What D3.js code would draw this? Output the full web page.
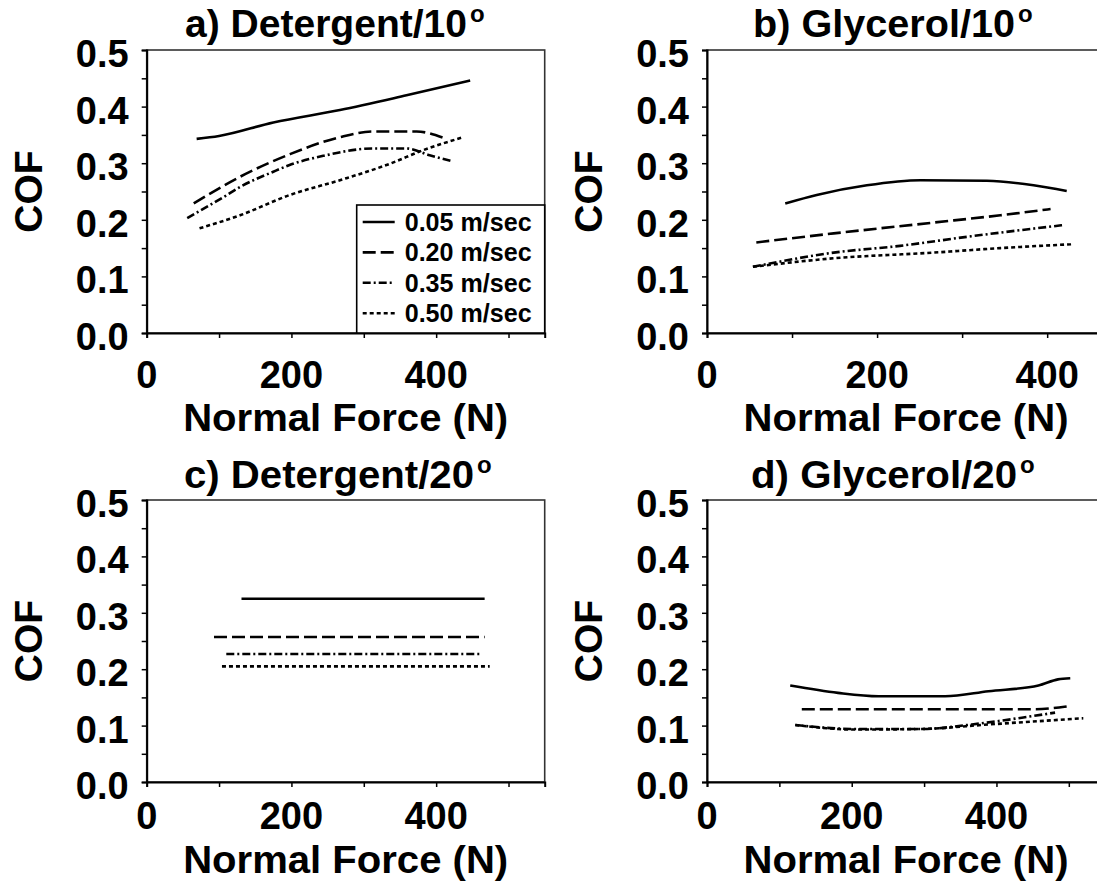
<!DOCTYPE html>
<html><head><meta charset="utf-8">
<script src="https://cdn.jsdelivr.net/npm/d3@7"></script>
<style>
body{margin:0;background:#fff}
svg{display:block;background:#fff}
text{font-family:'Liberation Sans',Arial,Helvetica,sans-serif;font-weight:bold;fill:#000}
</style>
</head><body>
<svg id="chart" width="1097" height="886"></svg>
<script>
// ---------- data ----------
const speedLabels = ["0.05 m/sec", "0.20 m/sec", "0.35 m/sec", "0.50 m/sec"];
const panelTitles = ["a) Detergent/10", "b) Glycerol/10", "c) Detergent/20", "d) Glycerol/20"];
const yTickLabels = [0.0, 0.1, 0.2, 0.3, 0.4, 0.5];
const yMinorTicks = [0.05, 0.15, 0.25, 0.35, 0.45];
const xTickLabels = [0, 200, 400];
const xTicks = [0, 100, 200, 300, 400, 500];

// a) Detergent / 10 deg
const aForce005 = [69, 100, 175, 267, 359, 447];
const aCof005   = [0.343, 0.348, 0.372, 0.394, 0.420, 0.446];
const aForce020 = [65, 129, 198, 267, 313, 373, 410];
const aCof020   = [0.229, 0.276, 0.316, 0.346, 0.356, 0.356, 0.345];
const aForce035 = [56, 106, 129, 175, 200, 244, 313, 359, 391, 421];
const aCof035   = [0.203, 0.240, 0.258, 0.285, 0.298, 0.313, 0.326, 0.326, 0.314, 0.304];
const aForce050 = [73, 129, 198, 267, 336, 382, 435];
const aCof050   = [0.185, 0.208, 0.244, 0.270, 0.299, 0.323, 0.345];

// b) Glycerol / 10 deg
const bForce005 = [92, 129, 188, 251, 329, 384, 423];
const bCof005   = [0.229, 0.244, 0.261, 0.270, 0.269, 0.261, 0.251];
const bForce020 = [58, 149, 266, 345, 404];
const bCof020   = [0.160, 0.176, 0.195, 0.208, 0.219];
const bForce035 = [54, 149, 227, 306, 421];
const bCof035   = [0.117, 0.142, 0.154, 0.170, 0.191];
const bForce050 = [54, 149, 266, 345, 431];
const bCof050   = [0.117, 0.132, 0.142, 0.150, 0.157];

// c) Detergent / 20 deg
const cForce005 = [131, 467];
const cCof005   = [0.325, 0.325];
const cForce020 = [93, 467];
const cCof020   = [0.257, 0.257];
const cForce035 = [110, 462];
const cCof035   = [0.227, 0.227];
const cForce050 = [104, 474];
const cCof050   = [0.205, 0.205];

// d) Glycerol / 20 deg
const dForce005 = [115, 181, 237, 329, 389, 458, 485, 502];
const dCof005   = [0.171, 0.158, 0.152, 0.152, 0.161, 0.171, 0.182, 0.184];
const dForce020 = [131, 453, 497];
const dCof020   = [0.129, 0.129, 0.134];
const dForce035 = [122, 205, 297, 366, 435, 481];
const dCof035   = [0.101, 0.094, 0.094, 0.102, 0.114, 0.123];
const dForce050 = [122, 205, 297, 389, 520];
const dCof050   = [0.101, 0.093, 0.094, 0.102, 0.113];

// ---------- layout / style ----------
const dashPatterns = [null, "13,5", "8,3,2,3", "4,3"];
const rows = [
  {top: 50, bottom: 333, titleY: 37, tickY: 388, xTitleY: 431},
  {top: 500, bottom: 782, titleY: 488, tickY: 829, xTitleY: 873}
];
const plotW = 398;
const panels = [
  {title: panelTitles[0], row: 0, left: 146.7, xMax: 550, titleX: 185, titleW: 282,
   series: [[aForce005, aCof005], [aForce020, aCof020], [aForce035, aCof035], [aForce050, aCof050]], legend: true},
  {title: panelTitles[1], row: 0, left: 707, xMax: 468, titleX: 753, titleW: 262,
   series: [[bForce005, bCof005], [bForce020, bCof020], [bForce035, bCof035], [bForce050, bCof050]]},
  {title: panelTitles[2], row: 1, left: 146.7, xMax: 550, titleX: 184, titleW: 290,
   series: [[cForce005, cCof005], [cForce020, cCof020], [cForce035, cCof035], [cForce050, cCof050]]},
  {title: panelTitles[3], row: 1, left: 707, xMax: 550, titleX: 751, titleW: 266,
   series: [[dForce005, dCof005], [dForce020, dCof020], [dForce035, dCof035], [dForce050, dCof050]]}
];

const svg = d3.select("#chart");
svg.append("rect").attr("width", 1097).attr("height", 886).attr("fill", "#fff");

panels.forEach(p => {
  const r = rows[p.row];
  const x = d3.scaleLinear().domain([0, p.xMax]).range([p.left, p.left + plotW]);
  const y = d3.scaleLinear().domain([0, 0.5]).range([r.bottom, r.top]);
  const g = svg.append("g");

  // frame
  g.append("rect").attr("x", p.left).attr("y", r.top)
    .attr("width", plotW).attr("height", r.bottom - r.top)
    .attr("fill", "none").attr("stroke", "#333").attr("stroke-width", 1.6);

  // y axis ticks
  const yAxis = d3.axisLeft(y).tickValues(yTickLabels.concat(yMinorTicks)).tickSize(5).tickFormat("");
  const ya = g.append("g").attr("transform", `translate(${p.left},0)`).call(yAxis);
  ya.select(".domain").attr("stroke", "#000").attr("stroke-width", 2);
  ya.selectAll(".tick line").attr("stroke", "#000").attr("stroke-width", 1.5);

  // x axis ticks
  const xAxis = d3.axisBottom(x).tickValues(xTicks).tickSize(5).tickFormat("");
  const xa = g.append("g").attr("transform", `translate(0,${r.bottom})`).call(xAxis);
  xa.select(".domain").attr("stroke", "#000").attr("stroke-width", 2);
  xa.selectAll(".tick line").attr("stroke", "#000").attr("stroke-width", 1.5);

  // y tick labels
  g.selectAll(".ylab").data(yTickLabels).enter().append("text")
    .attr("x", p.left - 18).attr("y", d => y(d) + 17)
    .attr("text-anchor", "end").attr("font-size", 38)
    .text(d => d3.format(".1f")(d));

  // x tick labels
  g.selectAll(".xlab").data(xTickLabels).enter().append("text")
    .attr("x", d => x(d)).attr("y", r.tickY)
    .attr("text-anchor", "middle").attr("font-size", 38)
    .text(d => d);

  // axis titles
  g.append("text").attr("x", p.left + plotW / 2).attr("y", r.xTitleY)
    .attr("text-anchor", "middle").attr("font-size", 38)
    .attr("textLength", 325).attr("lengthAdjust", "spacingAndGlyphs")
    .text("Normal Force (N)");
  const cy = (r.top + r.bottom) / 2;
  g.append("text").attr("transform", `translate(${p.left - 105},${cy}) rotate(-90)`)
    .attr("text-anchor", "middle").attr("font-size", 39)
    .text("COF");

  // panel title
  g.append("text").attr("x", p.titleX).attr("y", r.titleY)
    .attr("font-size", 38).attr("textLength", p.titleW).attr("lengthAdjust", "spacingAndGlyphs")
    .text(p.title);
  g.append("text").attr("x", p.titleX + p.titleW + 3).attr("y", r.titleY - 15)
    .attr("font-size", 24).text("o");

  // data lines
  const line = d3.line().x(d => x(d[0])).y(d => y(d[1])).curve(d3.curveMonotoneX);
  p.series.forEach((s, i) => {
    const pts = s[0].map((f, k) => [f, s[1][k]]);
    g.append("path").datum(pts).attr("d", line)
      .attr("fill", "none").attr("stroke", "#000").attr("stroke-width", 2.6)
      .attr("stroke-dasharray", dashPatterns[i]);
  });

  // legend
  if (p.legend) {
    const lx = p.left + 210, ly = r.top + 155;
    const lw = plotW - 210, lh = r.bottom - ly;
    g.append("rect").attr("x", lx).attr("y", ly).attr("width", lw).attr("height", lh)
      .attr("fill", "#fff").attr("stroke", "#000").attr("stroke-width", 1.6);
    speedLabels.forEach((lab, i) => {
      const yy = ly + 17 + i * 30.4;
      g.append("line").attr("x1", lx + 6).attr("x2", lx + 38).attr("y1", yy).attr("y2", yy)
        .attr("stroke", "#000").attr("stroke-width", 2.6)
        .attr("stroke-dasharray", dashPatterns[i]);
      g.append("text").attr("x", lx + 48).attr("y", yy + 9)
        .attr("font-size", 25).attr("textLength", 127).attr("lengthAdjust", "spacingAndGlyphs")
        .text(lab);
    });
  }
});
</script>
</body></html>
